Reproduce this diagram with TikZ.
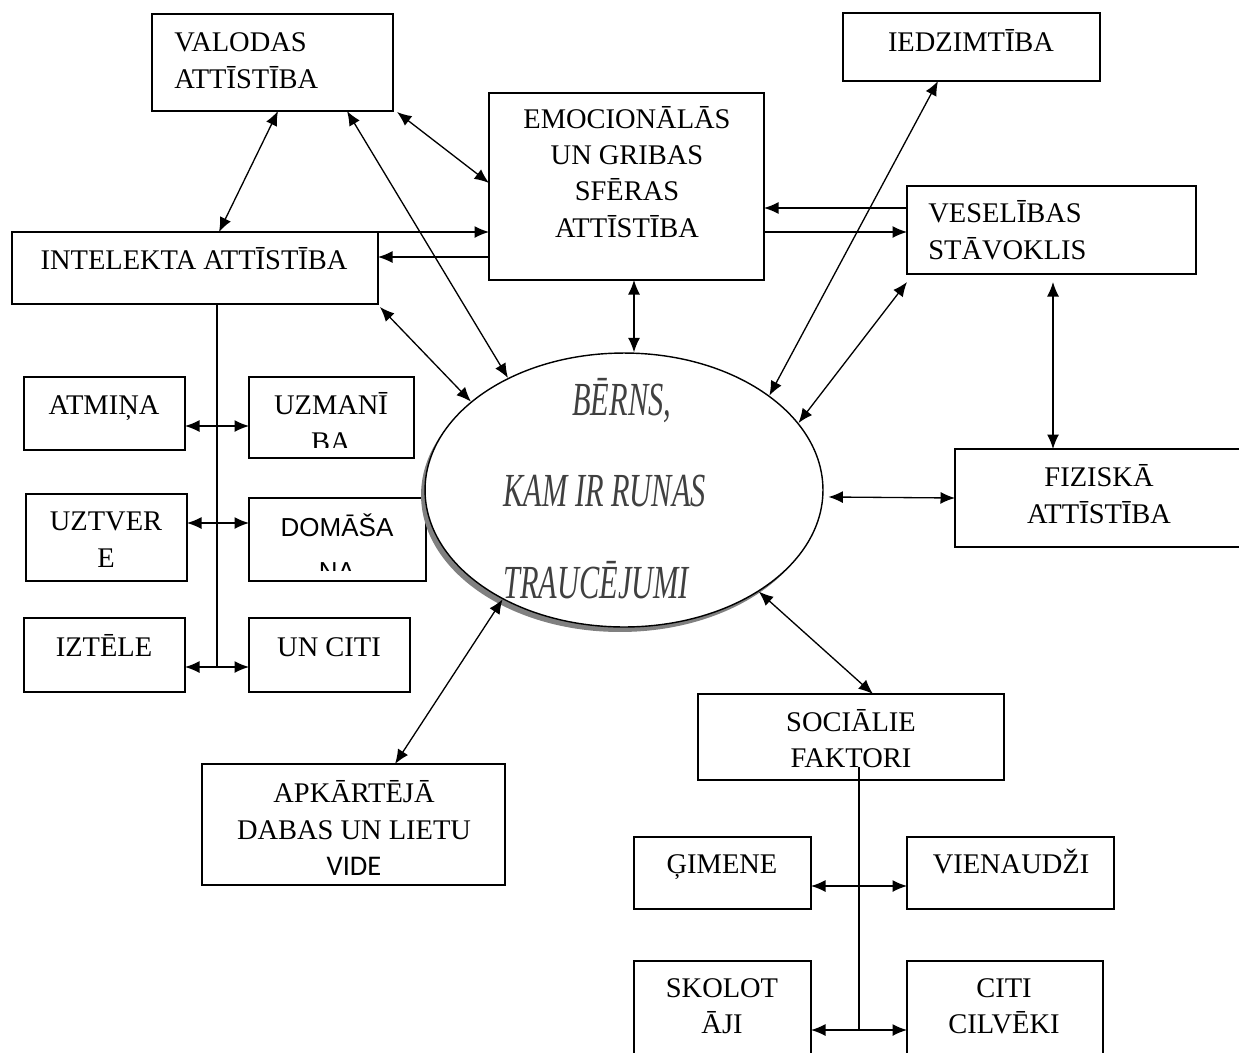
\documentclass[tikz,border=0pt]{standalone}
\usepackage{fontspec}
\usepackage{graphicx}
\setmainfont{Liberation Serif}
\newfontfamily\carl{Carlito}
\newfontfamily\lsans{Liberation Sans}
\usetikzlibrary{arrows.meta,fit,shapes.geometric,shadows,calc}
\begin{document}
\begin{tikzpicture}[x=0.02cm,y=-0.02cm,
  >={Latex[length=0.29cm,width=0.24cm]},
  box/.style={draw, line width=0.8pt, inner sep=0pt, outer sep=0pt},
  txt/.style={inner sep=0pt, align=center, font=\fontsize{16.2pt}{20.5pt}\selectfont},
  etxt/.style={inner sep=0pt, text=black!75, font=\fontsize{27pt}{30pt}\selectfont\itshape},
  ba/.style={line width=0.75pt, <->},
  ar/.style={line width=0.75pt, ->},
  bus/.style={line width=0.75pt}]
\useasboundingbox (0,0) rectangle (1239,1052);

% boxes
\node[box, fit={(152,14)(393,111)}] (val) {};
\node[box, fit={(843,13)(1100,81)}] (iedz) {};
\node[box, fit={(489,93)(764,280)}] (emo) {};
\node[box, fit={(12,232)(378,304)}] (intel) {};
\node[box, fit={(907,186)(1196,274)}] (ves) {};
\node[box, fit={(24,377)(185,450)}] (atm) {};
\node[box, fit={(249,377)(414,458)}] (uzm) {};
\node[box, fit={(26,494)(187,581)}] (uzt) {};
\node[box, fit={(249,498)(426,581)}] (dom) {};
\node[box, fit={(24,618)(185,692)}] (izt) {};
\node[box, fit={(249,618)(410,692)}] (unc) {};
\node[box, fit={(955,449)(1243,547)}] (fiz) {};
\node[box, fit={(698,694)(1004,780)}] (soc) {};
\node[box, fit={(202,764)(505,885)}] (apk) {};
\node[box, fit={(634,837)(811,909)}] (gim) {};
\node[box, fit={(907,837)(1114,909)}] (vie) {};
\node[box, fit={(634,961)(811,1058)}] (sko) {};
\node[box, fit={(907,961)(1103,1058)}] (cit) {};

% central ellipse
\node[ellipse, draw, line width=0.8pt, fill=white, minimum width=7.96cm, minimum height=5.48cm, inner sep=0pt,
  drop shadow={shadow xshift=-0.08cm, shadow yshift=-0.1cm, fill=black!50, opacity=1}] (ell) at (624,490) {};
\node[etxt, anchor=base west] (e1) at (572,415) {\scalebox{0.64}[1]{BĒRNS,}};
\node[etxt, anchor=base west] (e2) at (503,506) {\scalebox{0.64}[1]{KAM IR RUNAS}};
\node[etxt, anchor=base west] (e3) at (503,598) {\scalebox{0.64}[1]{TRAUCĒJUMI}};

% texts (anchor=base is the baseline of the last line)
\node[txt, align=left, anchor=base west] (val-t) at (174,88) {VALODAS\\ATTĪSTĪBA};
\node[txt, anchor=base] (iedz-t) at (971,51) {IEDZIMTĪBA};
\node[txt, anchor=base] (emo-t) at (627,237) {EMOCIONĀLĀS\\UN GRIBAS\\SFĒRAS\\ATTĪSTĪBA};
\node[txt, anchor=base] (intel-t) at (194,269) {INTELEKTA ATTĪSTĪBA};
\node[txt, align=left, anchor=base west] (ves-t) at (928,259) {VESELĪBAS\\STĀVOKLIS};
\node[txt, anchor=base] (atm-t) at (104,414) {ATMIŅA};
\begin{scope}
  \clip (249,377) rectangle (414,447);
  \node[txt, anchor=base] (uzm-t) at (331,451) {UZMANĪ\\BA};
\end{scope}
\node[txt, anchor=base] (uzt-t) at (106,567) {UZTVER\\E};
\begin{scope}
  \clip (249,498) rectangle (426,570);
  \node[txt, anchor=base, font=\lsans\fontsize{14.8pt}{25pt}\selectfont] (dom-t) at (337,580) {DOMĀŠA\\NA};
\end{scope}
\node[txt, anchor=base] (izt-t) at (104,656) {IZTĒLE};
\node[txt, anchor=base] (unc-t) at (329,656) {UN CITI};
\node[txt, anchor=base] (fiz-t) at (1099,523) {FIZISKĀ\\ATTĪSTĪBA};
\node[txt, anchor=base] (soc-t) at (851,767) {SOCIĀLIE\\FAKTORI};
\node[txt, anchor=base] (apk-t) at (354,875) {APKĀRTĒJĀ\\DABAS UN LIETU\\{\carl VIDE}};
\node[txt, anchor=base] (gim-t) at (722,873) {ĢIMENE};
\node[txt, anchor=base] (vie-t) at (1011,873) {VIENAUDŽI};
\node[txt, anchor=base] (sko-t) at (722,1033) {SKOLOT\\ĀJI};
\node[txt, anchor=base] (cit-t) at (1004,1033) {CITI\\CILVĒKI};

% connectors
\draw[ba] (278,0 |- val.south) -- (219,0 |- intel.north);
\draw[ba] (347,0 |- val.south) -- (ell.136);
\draw[ba] ($(val.south east)+(4,1)$) -- (emo.west |- 0,183);
\draw[ar] (intel.north east) -- (emo.west |- intel.north);
\draw[ar] (emo.west |- 0,257) -- (intel.east |- 0,257);
\draw[ba] ($(intel.south east)+(2,3)$) -- (ell.150);
\draw[ba] (634,0 |- emo.south) -- (634,0 |- ell.north);
\draw[ar] (ves.west |- 0,208) -- (emo.east |- 0,208);
\draw[ar] (emo.east |- 0,232) -- (ves.west |- 0,232);
\draw[ba] (938,0 |- iedz.south) -- (ell.33);
\draw[ba] ($(ves.south west)+(0,8)$) -- (ell.21);
\draw[ba] ($(1053,0 |- ves.south)+(0,8)$) -- (1053,0 |- fiz.north);
\draw[ba] ($(ell.-2)+(5,0)$) -- (fiz.west |- 0,498);
\draw[ba] (ell.-37) -- (873,0 |- soc.north);
\draw[ba] (ell.222) -- (395,0 |- apk.north);

% intellect bus
\coordinate (ib1) at (217,426);
\coordinate (ib2) at (217,523);
\coordinate (ib3) at (217,667);
\draw[bus] (217,0 |- intel.south) -- (ib3);
\draw[ba] (atm.east |- ib1) -- (uzm.west |- ib1);
\draw[ba] (uzt.east |- ib2) -- (dom.west |- ib2);
\draw[ba] (izt.east |- ib3) -- (unc.west |- ib3);

% social bus
\coordinate (sb0) at (859,767);
\coordinate (sb1) at (859,886);
\coordinate (sb2) at (859,1030);
\draw[bus] (sb0) -- (sb2);
\draw[ba] (gim.east |- sb1) -- (vie.west |- sb1);
\draw[ba] (sko.east |- sb2) -- (cit.west |- sb2);
\end{tikzpicture}
\end{document}
